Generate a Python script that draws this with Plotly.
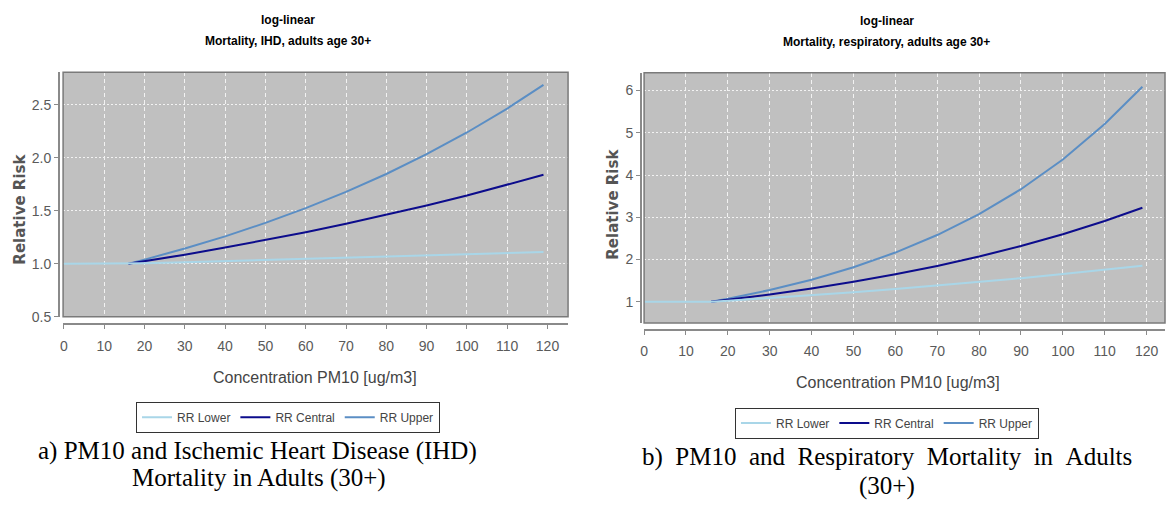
import plotly.graph_objects as go

W, H = 1166, 513

# ---------------- data ----------------
x_lower = [0, 16, 20, 30, 40, 50, 60, 70, 80, 90, 100, 110, 119]
x_cu = [16, 20, 30, 40, 50, 60, 70, 80, 90, 100, 110, 119]

ihd_lower = [1.0, 1.0, 1.004, 1.014, 1.024, 1.035, 1.045, 1.056, 1.067, 1.078, 1.089, 1.100, 1.110]
ihd_central = [1.0, 1.024, 1.086, 1.153, 1.223, 1.297, 1.377, 1.461, 1.550, 1.644, 1.745, 1.84]
ihd_upper = [1.0, 1.039, 1.144, 1.259, 1.386, 1.526, 1.679, 1.848, 2.035, 2.240, 2.466, 2.69]

resp_lower = [1.0, 1.0, 1.024, 1.088, 1.155, 1.226, 1.302, 1.382, 1.468, 1.559, 1.655, 1.758, 1.855]
resp_central = [1.0, 1.047, 1.172, 1.314, 1.472, 1.649, 1.848, 2.070, 2.320, 2.600, 2.913, 3.225]
resp_upper = [1.0, 1.073, 1.278, 1.523, 1.816, 2.165, 2.580, 3.075, 3.665, 4.369, 5.207, 6.09]

x_ticks = [0, 10, 20, 30, 40, 50, 60, 70, 80, 90, 100, 110, 120]
ihd_yticks = [0.5, 1.0, 1.5, 2.0, 2.5]
resp_yticks = [1, 2, 3, 4, 5, 6]

series_names = ["RR Lower", "RR Central", "RR Upper"]
colors = {"RR Lower": "#a9d6e8", "RR Central": "#0c0c8c", "RR Upper": "#5b8ec4"}

SANS = "Liberation Sans, Arial, sans-serif"
SERIF = "Liberation Serif, Times New Roman, serif"


def px(xp):
    return xp / W


def py(yp):
    return 1 - yp / H


fig = go.Figure()

panels = [
    dict(xa="x", ya="y", leg="legend",
         x=[x_lower, x_cu, x_cu], y=[ihd_lower, ihd_central, ihd_upper]),
    dict(xa="x2", ya="y2", leg="legend2",
         x=[x_lower, x_cu, x_cu], y=[resp_lower, resp_central, resp_upper]),
]

for p in panels:
    # draw upper first so the lower series ends on top (as in the original)
    for i in [2, 1, 0]:
        name = series_names[i]
        fig.add_trace(go.Scatter(
            x=p["x"][i], y=p["y"][i], mode="lines", name=name,
            line=dict(color=colors[name], width=2),
            xaxis=p["xa"], yaxis=p["ya"], legend=p["leg"],
            legendrank=i + 1,
        ))

axis_common = dict(
    showline=True, linecolor="#8a8a8a", linewidth=1.5,
    ticks="outside", ticklen=4, tickcolor="#8a8a8a", tickwidth=1,
    showgrid=True, gridcolor="#f2f2f2", gridwidth=1,
    zeroline=False,
    tickfont=dict(family=SANS, size=14, color="#5a5a5a"),
)

# panel geometry (pixels)
L = dict(x0=59.3, x1=566, y0=73.3, y1=321.7, xline=329.3, yline=55)
R = dict(x0=642.3, x1=1165, y0=74, y1=328, xline=335, yline=639)

legend_common = dict(orientation="h", yanchor="top", xanchor="center",
                     bgcolor="white", bordercolor="#333333", borderwidth=1,
                     font=dict(family=SANS, size=12, color="#444444"),
                     itemwidth=30, traceorder="normal")

fig.update_layout(
    width=W, height=H,
    margin=dict(l=0, r=0, t=0, b=0),
    paper_bgcolor="white",
    plot_bgcolor="#c0c0c0",
    showlegend=True,
    xaxis=dict(domain=[px(L["x0"]), px(L["x1"])], anchor="free", position=py(L["xline"]),
               range=[-0.2, 125.1], tickvals=x_ticks, griddash="4px,3px",
               ticklabelstandoff=5, **axis_common),
    yaxis=dict(domain=[py(L["y1"]), py(L["y0"])], anchor="free", position=px(L["yline"]),
               range=[0.5, 2.81], tickvals=ihd_yticks, tickformat=".1f", griddash="2px,2px",
               **axis_common),
    xaxis2=dict(domain=[px(R["x0"]), px(R["x1"])], anchor="free", position=py(R["xline"]),
                range=[0, 124.4], tickvals=x_ticks, griddash="4px,3px",
                ticklabelstandoff=5, **axis_common),
    yaxis2=dict(domain=[py(R["y1"]), py(R["y0"])], anchor="free", position=px(R["yline"]),
                range=[0.5, 6.42], tickvals=resp_yticks, griddash="2px,2px", **axis_common),
    legend=dict(x=px(285), y=py(408), **legend_common),
    legend2=dict(x=px(886), y=py(414), **legend_common),
)

# plot-area frames
for xr, yr in [("x domain", "y domain"), ("x2 domain", "y2 domain")]:
    fig.add_shape(type="rect", xref=xr, yref=yr, x0=0, x1=1, y0=0, y1=1,
                  line=dict(color="#7a7a7a", width=1.5), layer="above")

ann = []


def text(xp, yp, s, size, family, color="#000000", bold=False, angle=0):
    ann.append(dict(x=px(xp), y=py(yp), xref="paper", yref="paper",
                    text=f"<b>{s}</b>" if bold else s,
                    showarrow=False, xanchor="center", yanchor="middle", textangle=angle,
                    font=dict(size=size, family=family, color=color)))


# chart titles
text(285, 20, "log-linear", 12, SANS, bold=True)
text(285, 42, "Mortality, IHD, adults age 30+", 12, SANS, bold=True)
text(886, 21, "log-linear", 12, SANS, bold=True)
text(886, 43, "Mortality, respiratory, adults age 30+", 12, SANS, bold=True)

# axis titles
text(16, 212, "Relative Risk", 15, "DejaVu Sans, sans-serif", color="#555555", bold=True, angle=-90)
text(611, 207, "Relative Risk", 15, "DejaVu Sans, sans-serif", color="#555555", bold=True, angle=-90)
text(312, 383, "Concentration PM10 [ug/m3]", 16, SANS, color="#444444")
text(897, 389, "Concentration PM10 [ug/m3]", 16, SANS, color="#444444")

# captions (the first line of caption b is slightly justified in the original)
gap = " \u00a0"
text(254, 458, "a) PM10 and Ischemic Heart Disease (IHD)", 25, SERIF)
text(256, 486, "Mortality in Adults (30+)", 25, SERIF)
text(886, 464, gap.join(["b)", "PM10", "and", "Respiratory", "Mortality", "in", "Adults"]), 25, SERIF)
text(886, 494, "(30+)", 25, SERIF)

fig.update_layout(annotations=ann)

fig.write_html("out.html", post_script="document.body.style.margin='0px';",
               config={"displayModeBar": False})
